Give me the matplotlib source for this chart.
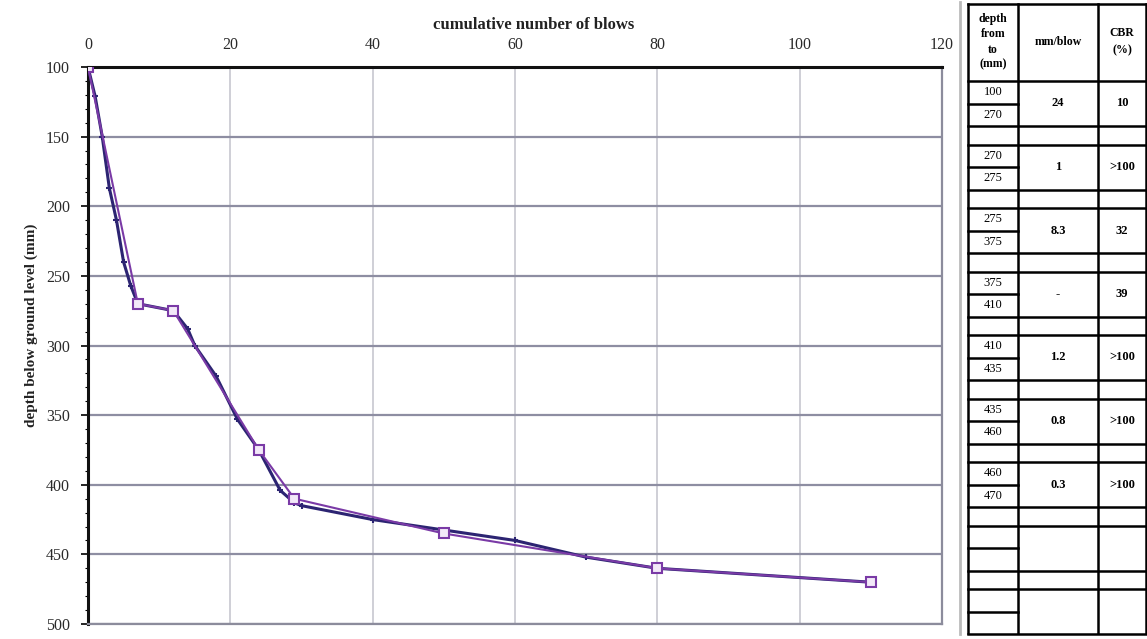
"""
DCP test plot: depth vs cumulative number of blows, with summary table
"""

import matplotlib.pyplot as plt
from matplotlib.ticker import MultipleLocator

# test series (squares) - cumulative blows and depth (mm)
blows_a = [0, 7, 12, 24, 29, 50, 80, 110]
depth_a = [100, 270, 275, 375, 410, 435, 460, 470]

# every reading (dark line)
blows_b = [0, 1, 2, 3, 4, 5, 6, 7, 12, 14, 15, 18, 21, 24, 27, 29, 30, 40, 60, 70, 80, 110]
depth_b = [100, 121, 150, 187, 210, 240, 257, 270, 275, 288, 300, 322, 353, 375, 404, 413, 415, 425, 440, 452, 460, 470]

x_ticks = [0, 20, 40, 60, 80, 100, 120]
y_ticks = [100, 150, 200, 250, 300, 350, 400, 450, 500]

# summary table
depth_from = ['100', '270', '275', '375', '410', '435', '460']
depth_to = ['270', '275', '375', '410', '435', '460', '470']
mm_per_blow = ['24', '1', '8.3', '-', '1.2', '0.8', '0.3']
cbr = ['10', '>100', '32', '39', '>100', '>100', '>100']

plt.rcParams['font.family'] = ['Liberation Serif', 'DejaVu Serif']

W, H = 1147, 639
fig = plt.figure(figsize=(W / 100, H / 100), dpi=100)

# ---- chart ----
ax = fig.add_axes([88 / W, 1 - 624 / H, (942 - 88) / W, (624 - 67) / H])
ax.set_xlim(0, 120)
ax.set_ylim(500, 100)
ax.xaxis.tick_top()
ax.xaxis.set_label_position('top')
ax.set_xticks(x_ticks)
ax.set_yticks(y_ticks)
ax.yaxis.set_minor_locator(MultipleLocator(10))
ax.tick_params(axis='x', length=0, pad=10, labelsize=11.5, labelcolor='#2a2a2a')
ax.tick_params(axis='y', which='major', length=5, width=1.2, pad=8, labelsize=11.5, labelcolor='#2a2a2a')
ax.tick_params(axis='y', which='minor', length=2, width=0.8)

ax.grid(axis='y', color='#8e8ea2', lw=1.6)
ax.grid(axis='x', color='#cfcfd6', lw=1.4)
ax.set_axisbelow(True)

for s in ['left', 'top']:
    ax.spines[s].set_linewidth(2.2)
    ax.spines[s].set_color('#111111')
for s in ['right', 'bottom']:
    ax.spines[s].set_linewidth(1.6)
    ax.spines[s].set_color('#8c8c9c')

ax.plot(blows_b, depth_b, color='#2c2472', lw=2.2, marker='+', ms=5, mew=1.5, zorder=3)
ax.plot(blows_a, depth_a, color='#7a3aa6', lw=1.5, marker='s', ms=7, mfc='#f2e8f8', mec='#7a3aa6', mew=1.5, zorder=4)

ax.set_xlabel('cumulative number of blows', fontsize=12, fontweight='bold', color='#222222',
              labelpad=6, x=0.522)
ax.set_ylabel('depth below ground level (mm)', fontsize=11, fontweight='bold', color='#222222',
              labelpad=6, y=0.537)

# ---- table ----
tx = fig.add_axes([958 / W, 0, (W - 958) / W, 1])
tx.set_xlim(958, W)
tx.set_ylim(H, 0)
tx.axis('off')

c0, c1, c2, c3 = 968, 1018, 1098, 1146
lw = 1.8
tx.plot([960, 960], [2, 634], color='#bbbbbb', lw=2)
for xv in [c0, c1, c2, c3]:
    tx.plot([xv, xv], [4, 633], color='k', lw=lw)
tx.plot([c0, c3], [4, 4], color='k', lw=lw)
tx.plot([c0, c3], [81, 81], color='k', lw=lw)

tx.text((c0 + c1) / 2, 42, 'depth\nfrom\nto\n(mm)', ha='center', va='center', fontsize=8.5,
        fontweight='bold', linespacing=1.35)
tx.text((c1 + c2) / 2, 42, 'mm/blow', ha='center', va='center', fontsize=8.5, fontweight='bold')
tx.text((c2 + c3) / 2, 42, 'CBR\n(%)', ha='center', va='center', fontsize=8.5, fontweight='bold',
        linespacing=1.6)

period = 63.5
sub = 22.5
for i in range(9):
    top = 81 + i * period
    mid = top + sub
    end = top + 2 * sub
    if i > 0:
        tx.plot([c0, c3], [top, top], color='k', lw=lw)
    tx.plot([c0, c1], [mid, mid], color='k', lw=lw)
    tx.plot([c0, c3], [end, end], color='k', lw=lw)
    if i < len(depth_from):
        tx.text((c0 + c1) / 2, top + sub / 2, depth_from[i], ha='center', va='center', fontsize=9)
        tx.text((c0 + c1) / 2, mid + sub / 2, depth_to[i], ha='center', va='center', fontsize=9)
        tx.text((c1 + c2) / 2, mid, mm_per_blow[i], ha='center', va='center', fontsize=9, fontweight='bold')
        tx.text((c2 + c3) / 2, mid, cbr[i], ha='center', va='center', fontsize=9, fontweight='bold')

fig.savefig('out.png', dpi=100)
